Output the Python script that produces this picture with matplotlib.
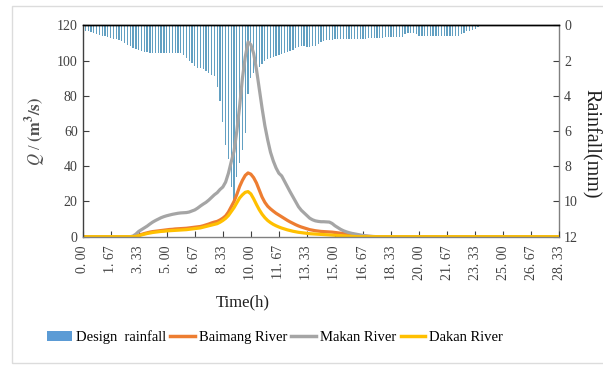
import matplotlib
matplotlib.use("Agg")
import matplotlib.pyplot as plt
import numpy as np
from matplotlib.lines import Line2D
from matplotlib.patches import Patch, Rectangle

# ── Données (pas de 10 min, 171 pas de 0 à 28.33 h) ─────────────────────────
STEP_H = 1.0 / 6.0
N_STEPS = 171
time_h = np.arange(N_STEPS) * STEP_H

# Pluie de projet (mm par pas de 10 min), pas 0..143, ensuite nulle
rain_mm = [
    0.25, 0.30, 0.35, 0.40, 0.45, 0.50,
    0.55, 0.60, 0.60, 0.65, 0.70, 0.75,
    0.80, 0.85, 0.90, 1.00, 1.10, 1.20,
    1.30, 1.35, 1.40, 1.45, 1.50, 1.50,
    1.55, 1.55, 1.60, 1.60, 1.60, 1.60,
    1.60, 1.60, 1.60, 1.60, 1.55, 1.60,
    1.70, 1.85, 2.00, 2.15, 2.30, 2.40,
    2.45, 2.50, 2.60, 2.70, 2.80, 2.90,
    3.50, 4.30, 5.50, 6.80, 7.60, 9.20,
    9.90, 8.60, 7.80, 7.10, 6.10, 3.90,
    3.00, 2.70, 2.50, 2.35, 2.20, 2.05,
    1.90, 1.85, 1.80, 1.75, 1.70, 1.65,
    1.60, 1.50, 1.45, 1.40, 1.30, 1.25,
    1.20, 1.20, 1.25, 1.25, 1.20, 1.15,
    1.05, 0.95, 0.90, 0.85, 0.85, 0.85,
    0.80, 0.80, 0.80, 0.78, 0.78, 0.76,
    0.76, 0.75, 0.75, 0.75, 0.75, 0.75,
    0.70, 0.70, 0.70, 0.70, 0.70, 0.70,
    0.68, 0.68, 0.66, 0.66, 0.65, 0.65,
    0.65, 0.50, 0.45, 0.45, 0.45, 0.50,
    0.60, 0.60, 0.60, 0.60, 0.60, 0.60,
    0.60, 0.60, 0.60, 0.60, 0.60, 0.60,
    0.60, 0.60, 0.60, 0.50, 0.45, 0.35,
    0.30, 0.25, 0.20, 0.10,
]

# Débits (m³/s), partie active à partir du pas 18 (t = 3.0 h)
FLOW_START = 18
makan = [
    0.4, 1.5, 3.0, 4.0, 5.0, 6.0,
    7.2, 8.3, 9.2, 10.0, 10.8, 11.4,
    11.9, 12.3, 12.7, 13.0, 13.3, 13.5,
    13.6, 13.7, 14.0, 14.6, 15.2, 16.2,
    17.4, 18.5, 19.5, 20.8, 22.3, 23.8,
    25.0, 26.8, 28.2, 31.0, 36.0, 42.5,
    48.5, 60.0, 74.0, 90.0, 102.0, 110.5,
    109.0, 104.0, 95.0, 84.0, 73.0, 63.0,
    55.0, 48.0, 43.0, 39.0, 36.0, 34.5,
    31.5, 28.5, 25.5, 22.7, 20.0, 17.0,
    15.0, 13.5, 12.0, 10.5, 9.6, 9.0,
    8.7, 8.5, 8.5, 8.4, 8.3, 7.5,
    6.2, 5.2, 4.2, 3.4, 2.8, 2.3,
    1.9, 1.6, 1.3, 1.0, 0.7, 0.5,
    0.3, 0.2, 0.1,
]
baimang = [
    0.0, 0.3, 0.8, 1.3, 1.8, 2.2,
    2.6, 2.9, 3.1, 3.3, 3.5, 3.7,
    3.9, 4.1, 4.2, 4.4, 4.5, 4.6,
    4.7, 4.8, 5.0, 5.2, 5.4, 5.6,
    5.8, 6.2, 6.7, 7.2, 7.8, 8.3,
    8.7, 9.5, 10.5, 11.8, 14.0, 17.0,
    20.0, 24.0, 28.5, 32.0, 34.8, 36.2,
    35.5, 33.5, 30.5, 26.5, 22.5, 19.5,
    17.3, 15.8, 14.5, 13.3, 12.3, 11.3,
    10.3, 9.3, 8.4, 7.6, 6.8, 6.1,
    5.5, 5.0, 4.5, 4.0, 3.7, 3.4,
    3.2, 3.0, 2.9, 2.8, 2.7, 2.6,
    2.4, 2.2, 2.0, 1.8, 1.6, 1.4,
    1.2, 1.0, 0.8, 0.6, 0.4, 0.3,
    0.2, 0.1,
]
dakan = [
    0.0, 0.2, 0.6, 1.0, 1.4, 1.8,
    2.1, 2.4, 2.6, 2.8, 3.0, 3.1,
    3.3, 3.4, 3.5, 3.6, 3.7, 3.8,
    3.9, 4.0, 4.2, 4.4, 4.6, 4.8,
    5.0, 5.4, 5.8, 6.2, 6.6, 7.0,
    7.4, 8.2, 9.2, 10.4, 12.0, 14.2,
    16.5, 19.3, 22.0, 23.8, 25.2, 25.6,
    24.3, 21.5, 18.3, 15.3, 12.8, 10.8,
    9.2, 8.0, 7.0, 6.2, 5.5, 4.9,
    4.4, 3.9, 3.5, 3.1, 2.8, 2.5,
    2.3, 2.1, 1.9, 1.7, 1.6, 1.5,
    1.4, 1.3, 1.2, 1.1, 1.0, 0.9,
    0.8, 0.7, 0.6, 0.5, 0.4, 0.3,
    0.2, 0.1,
]

x_ticks = np.arange(0, N_STEPS, 10) * STEP_H
x_tick_labels = [f"{v:.2f}".replace(".", ". ") for v in x_ticks]
q_ticks = [0, 20, 40, 60, 80, 100, 120]
rain_ticks = [0, 2, 4, 6, 8, 10, 12]


def pad(values, start=0):
    """Complète une série par des zéros avant/après la partie lue."""
    out = np.zeros(N_STEPS)
    out[start:start + len(values)] = values
    return out


# ── Style ────────────────────────────────────────────────────────────────────
SERIF = ["Liberation Serif", "DejaVu Serif"]
plt.rcParams["font.family"] = SERIF
plt.rcParams["mathtext.fontset"] = "stix"

C_RAIN = "#62a0c2"
C_RAIN_LEG = "#5B9BD5"
C_BAIMANG = "#ED7D31"
C_MAKAN = "#A5A5A5"
C_DAKAN = "#FFC000"
TICK_COLOR = "#404040"

fig = plt.figure(figsize=(6.03, 3.65), dpi=100)
fig.patches.append(Rectangle((12 / 603, 2 / 365), 1.0, 357 / 365,
                             transform=fig.transFigure, fill=False,
                             edgecolor="#dcdcdc", linewidth=1.0))

ax = fig.add_axes([0.137, 0.3515, 0.7905, 0.5792])
ax2 = ax.twinx()

# Pluie sur l'axe secondaire (inversé), derrière les courbes
ax2.bar(time_h, pad(rain_mm), width=STEP_H * 0.45, color=C_RAIN,
        linewidth=0, align="center")
ax2.set_ylim(12, 0)
ax2.set_yticks(rain_ticks)
ax2.set_ylabel("Rainfall(mm)", fontsize=14.5, rotation=270, color="#202020")
ax2.yaxis.set_label_coords(1.087, 0.44)

ax.set_zorder(ax2.get_zorder() + 1)
ax.patch.set_visible(False)

ax.plot(time_h, pad(baimang, FLOW_START), color=C_BAIMANG, lw=2.3,
        solid_capstyle="round")
ax.plot(time_h, pad(makan, FLOW_START), color=C_MAKAN, lw=2.3,
        solid_capstyle="round")
ax.plot(time_h, pad(dakan, FLOW_START), color=C_DAKAN, lw=2.3,
        solid_capstyle="round")

ax.set_xlim(0, time_h[-1])
ax.set_ylim(0, 120)
ax.set_yticks(q_ticks)
ax.set_xticks(x_ticks)
ax.set_xticklabels(x_tick_labels, rotation=90)
ax.set_ylabel(r"$\mathit{Q}$ / $\mathbf{(m^3/s)}$", fontsize=12,
              color="#505050")
ax.yaxis.set_label_coords(-0.072, 0.5)

for a in (ax, ax2):
    a.tick_params(direction="in", length=4, width=0.8, colors=TICK_COLOR,
                  labelsize=10)
ax.tick_params(axis="x", labelsize=10, pad=6)

ax.spines["top"].set_color("#000000")
ax.spines["left"].set_color("#404040")
ax.spines["bottom"].set_color("#808080")
ax.spines["right"].set_visible(False)
ax2.spines["right"].set_color("#808080")
ax2.spines["top"].set_color("#000000")
ax2.spines["left"].set_visible(False)
ax2.spines["bottom"].set_visible(False)
for s in list(ax.spines.values()) + list(ax2.spines.values()):
    s.set_linewidth(1.0)

fig.text(243 / 603, 1 - 302 / 365, "Time(h)", fontsize=12, ha="center",
         va="center", color="#202020")

handles = [
    Patch(facecolor=C_RAIN_LEG, edgecolor="none", label="Design  rainfall"),
    Line2D([0], [0], color=C_BAIMANG, lw=2.5, label="Baimang River"),
    Line2D([0], [0], color=C_MAKAN, lw=2.5, label="Makan River"),
    Line2D([0], [0], color=C_DAKAN, lw=2.5, label="Dakan River"),
]
fig.legend(handles=handles, loc="center", ncol=4,
           bbox_to_anchor=(275 / 603, 1 - 337 / 365), frameon=False,
           fontsize=10.5, handlelength=1.7, handletextpad=0.25,
           columnspacing=0.3, borderaxespad=0)

fig.savefig("out.png", dpi=100)
